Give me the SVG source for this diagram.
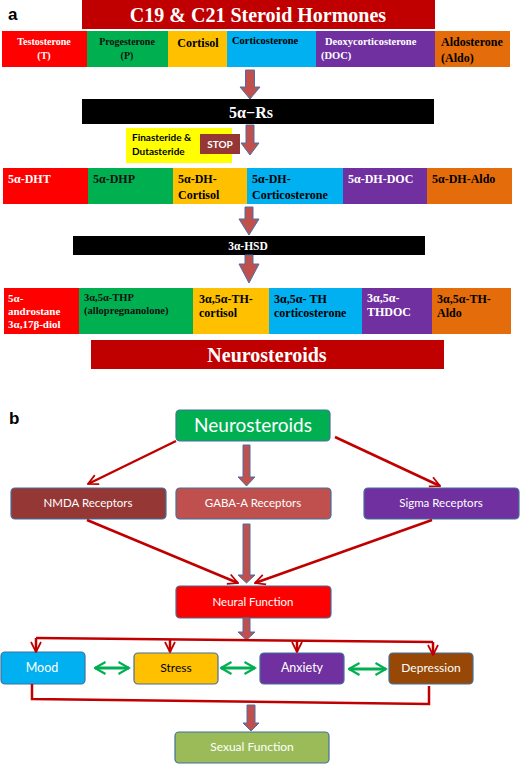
<svg xmlns="http://www.w3.org/2000/svg" width="520" height="764" viewBox="0 0 520 764">
<style>
.s{font-family:"Liberation Serif",serif;font-weight:bold}
.c{font-family:Lato,"Liberation Sans",sans-serif}
.w{fill:#fff}.k{fill:#000}
.ba{fill:#C0504D;stroke:#4A6FA5;stroke-width:1}
.rl{fill:none;stroke:#C00000;stroke-width:2.5}
.gl{fill:none;stroke:#00B050;stroke-width:3}
.nb{stroke:#41719C;stroke-width:1.2}
</style>
<defs>
<marker id="ra" viewBox="0 0 10 10" refX="9" refY="5" markerWidth="5" markerHeight="5" orient="auto" markerUnits="strokeWidth">
<polyline points="1,1 9,5 1,9" fill="none" stroke="#C00000" stroke-width="1.4"/>
</marker>
<marker id="ga" viewBox="0 0 10 10" refX="9" refY="5" markerWidth="5" markerHeight="5" orient="auto-start-reverse" markerUnits="strokeWidth">
<polyline points="2,1 9,5 2,9" fill="none" stroke="#00B050" stroke-width="1.4"/>
</marker>
</defs>
<rect width="520" height="764" fill="#fff"/>

<!-- Part a -->
<text x="8" y="20" font-family="Liberation Sans,sans-serif" font-weight="bold" font-size="17" fill="#000">a</text>

<g id="title">
<rect x="82" y="0" width="353" height="29" fill="#C00000"/>
<text x="258" y="22" class="s w" font-size="20" text-anchor="middle">C19 &amp; C21 Steroid Hormones</text>
</g>

<g id="row1">
<g id="testosterone"><rect x="2" y="31" width="85" height="36" fill="#FF0000"/>
<text x="44" y="45" class="s w" font-size="10" text-anchor="middle">Testosterone</text>
<text x="44" y="59" class="s w" font-size="10" text-anchor="middle">(T)</text></g>
<g id="progesterone"><rect x="87" y="31" width="81" height="36" fill="#00B050"/>
<text x="127" y="45" class="s" fill="#111" font-size="10" text-anchor="middle">Progesterone</text>
<text x="127" y="59" class="s" fill="#111" font-size="10" text-anchor="middle">(P)</text></g>
<g id="cortisol"><rect x="168" y="31" width="59" height="36" fill="#FFC000"/>
<text x="198" y="47" class="s k" font-size="12" text-anchor="middle">Cortisol</text></g>
<g id="corticosterone"><rect x="227" y="31" width="89" height="36" fill="#00B0F0"/>
<text x="232" y="44" class="s k" font-size="10.5">Corticosterone</text></g>
<g id="doc"><rect x="316" y="31" width="119" height="36" fill="#7030A0"/>
<text x="325" y="45" class="s w" font-size="10.5">Deoxycorticosterone</text>
<text x="321" y="59" class="s w" font-size="10.5">(DOC)</text></g>
<g id="aldosterone"><rect x="435" y="31" width="75" height="36" fill="#E46C0A"/>
<text x="441" y="46" class="s k" font-size="12">Aldosterone</text>
<text x="441" y="62" class="s k" font-size="12">(Aldo)</text></g>
</g>

<g id="rs">
<rect x="82" y="99" width="352" height="25" fill="#000"/>
<text x="251" y="118" class="s w" font-size="16" text-anchor="middle">5α−Rs</text>
</g>

<g id="inhibitor">
<rect x="126" y="128" width="106" height="35" fill="#FFFF00"/>
<text x="132" y="141" class="c k" font-size="10" font-weight="bold">Finasteride &amp;</text>
<text x="132" y="155" class="c k" font-size="10" font-weight="bold">Dutasteride</text>
<rect x="200" y="134" width="40" height="20" fill="#953735"/>
<text x="220" y="148" class="c w" font-size="10" font-weight="bold" text-anchor="middle">STOP</text>
</g>

<g id="row2">
<g id="dht"><rect x="3" y="168" width="85" height="36" fill="#FF0000"/>
<text x="8" y="183" class="s w" font-size="12">5α-DHT</text></g>
<g id="dhp"><rect x="88" y="168" width="85" height="36" fill="#00B050"/>
<text x="93" y="183" class="s" fill="#111" font-size="12">5α-DHP</text></g>
<g id="dhcortisol"><rect x="173" y="168" width="74" height="36" fill="#FFC000"/>
<text x="178" y="183" class="s k" font-size="12">5α-DH-</text>
<text x="178" y="199" class="s k" font-size="12">Cortisol</text></g>
<g id="dhcortico"><rect x="247" y="168" width="96" height="36" fill="#00B0F0"/>
<text x="252" y="183" class="s k" font-size="12">5α-DH-</text>
<text x="252" y="199" class="s k" font-size="12">Corticosterone</text></g>
<g id="dhdoc"><rect x="343" y="168" width="84" height="36" fill="#7030A0"/>
<text x="348" y="183" class="s w" font-size="12">5α-DH-DOC</text></g>
<g id="dhaldo"><rect x="427" y="168" width="85" height="36" fill="#E46C0A"/>
<text x="432" y="183" class="s k" font-size="12">5α-DH-Aldo</text></g>
</g>

<g id="hsd">
<rect x="73" y="236" width="352" height="19" fill="#000"/>
<text x="248" y="250" class="s w" font-size="11.5" text-anchor="middle">3α-HSD</text>
</g>

<g id="row3">
<g id="diol"><rect x="4" y="288" width="75" height="46" fill="#FF0000"/>
<text x="8" y="302" class="s w" font-size="11">5α-</text>
<text x="8" y="315" class="s w" font-size="11">androstane</text>
<text x="8" y="328" class="s w" font-size="11">3α,17β-diol</text></g>
<g id="thp"><rect x="79" y="288" width="114" height="46" fill="#00B050"/>
<text x="84" y="301" class="s" fill="#111" font-size="10.5">3α,5α-THP</text>
<text x="84" y="314" class="s" fill="#111" font-size="10.5">(allopregnanolone)</text></g>
<g id="thcortisol"><rect x="193" y="288" width="76" height="46" fill="#FFC000"/>
<text x="199" y="303" class="s k" font-size="12">3α,5α-TH-</text>
<text x="199" y="317" class="s k" font-size="12">cortisol</text></g>
<g id="thcortico"><rect x="269" y="288" width="93" height="46" fill="#00B0F0"/>
<text x="274" y="303" class="s k" font-size="12">3α,5α- TH</text>
<text x="274" y="317" class="s k" font-size="12">corticosterone</text></g>
<g id="thdoc"><rect x="362" y="288" width="70" height="46" fill="#7030A0"/>
<text x="367" y="302" class="s w" font-size="12">3α,5α-</text>
<text x="367" y="316" class="s w" font-size="12">THDOC</text></g>
<g id="thaldo"><rect x="432" y="288" width="79" height="46" fill="#E46C0A"/>
<text x="437" y="303" class="s k" font-size="12">3α,5α-TH-</text>
<text x="437" y="317" class="s k" font-size="12">Aldo</text></g>
</g>

<g id="neurosteroids-a">
<rect x="91" y="340" width="353" height="29" fill="#C00000"/>
<text x="267" y="362" class="s w" font-size="20" text-anchor="middle">Neurosteroids</text>
</g>

<!-- Part b -->
<text x="9" y="424" font-family="Liberation Sans,sans-serif" font-weight="bold" font-size="17" fill="#000">b</text>

<g id="neuro-b">
<rect x="176" y="410" width="154" height="31" rx="4" fill="#00B050" class="nb"/>
<text x="253" y="432" class="c w" font-size="19" text-anchor="middle">Neurosteroids</text>
</g>
<g id="nmda">
<rect x="11" y="488" width="155" height="31" rx="4" fill="#953735" class="nb"/>
<text x="88" y="507" class="c w" font-size="11.5" text-anchor="middle">NMDA Receptors</text>
</g>
<g id="gaba">
<rect x="176" y="488" width="155" height="31" rx="4" fill="#C0504D" class="nb"/>
<text x="253" y="507" class="c w" font-size="11.5" text-anchor="middle">GABA-A Receptors</text>
</g>
<g id="sigma">
<rect x="364" y="488" width="155" height="31" rx="4" fill="#7030A0" class="nb"/>
<text x="441" y="507" class="c w" font-size="11.5" text-anchor="middle">Sigma Receptors</text>
</g>
<g id="neural">
<rect x="176" y="586" width="155" height="32" rx="4" fill="#FF0000" class="nb"/>
<text x="253" y="606" class="c w" font-size="11.5" text-anchor="middle">Neural Function</text>
</g>
<g id="mood">
<rect x="1" y="652" width="84" height="32" rx="4" fill="#00B0F0" class="nb"/>
<text x="42" y="672" class="c w" font-size="12.5" text-anchor="middle">Mood</text>
</g>
<g id="stress">
<rect x="134" y="653" width="84" height="31" rx="4" fill="#FFC000" class="nb"/>
<text x="176" y="672" class="c k" font-size="12" text-anchor="middle">Stress</text>
</g>
<g id="anxiety">
<rect x="260" y="653" width="84" height="31" rx="4" fill="#7030A0" class="nb"/>
<text x="302" y="672" class="c w" font-size="12.5" text-anchor="middle">Anxiety</text>
</g>
<g id="depression">
<rect x="389" y="653" width="84" height="31" rx="4" fill="#974706" class="nb"/>
<text x="431" y="672" class="c w" font-size="12" text-anchor="middle">Depression</text>
</g>
<g id="sexual">
<rect x="175" y="732" width="154" height="31" rx="4" fill="#9BBB59" class="nb"/>
<text x="252" y="751" class="c w" font-size="12" text-anchor="middle">Sexual Function</text>
</g>

<g id="connectors">
<path class="ba" d="M245.5,70 H254.5 V87 H260 L250,99 L240,87 H245.5 Z"/>
<path class="ba" d="M246,125 H254 V143 H259 L250,155 L241,143 H246 Z"/>
<path class="ba" d="M245,207 H253 V219 H259 L249,235 L239,219 H245 Z"/>
<path class="ba" d="M245,255 H253 V264 H259 L249,283 L239,264 H245 Z"/>
<path class="ba" d="M243,445 H250 V477 H255 L246.5,486 L238,477 H243 Z"/>
<path class="ba" d="M243,524 H250 V575 H255 L246.5,583 L238,575 H243 Z"/>
<path class="ba" d="M243,618 H250 V632 H255 L246.5,640 L238,632 H243 Z"/>
<path class="ba" d="M247,705 H255 V723 H259 L251,731 L243,723 H247 Z"/>
<line class="rl" x1="176" y1="441" x2="88" y2="484" marker-end="url(#ra)"/>
<line class="rl" x1="335" y1="437" x2="440" y2="486" marker-end="url(#ra)"/>
<line class="rl" x1="87" y1="520" x2="238" y2="583" marker-end="url(#ra)"/>
<line class="rl" x1="432" y1="520" x2="255" y2="583" marker-end="url(#ra)"/>
<polyline class="rl" points="433,642 36,638"/>
<polyline class="rl" points="36,638 36,652" marker-end="url(#ra)"/>
<polyline class="rl" points="170,639.3 170,652" marker-end="url(#ra)"/>
<polyline class="rl" points="297,640.6 297,652" marker-end="url(#ra)"/>
<polyline class="rl" points="433,642 433,655" marker-end="url(#ra)"/>
<polyline class="rl" points="32,684 32,699 429,704 429,686"/>
<line class="gl" x1="95" y1="668" x2="129" y2="668" marker-start="url(#ga)" marker-end="url(#ga)"/>
<line class="gl" x1="221" y1="668" x2="255" y2="668" marker-start="url(#ga)" marker-end="url(#ga)"/>
<line class="gl" x1="349" y1="669" x2="386" y2="669" marker-start="url(#ga)" marker-end="url(#ga)"/>
</g>
</svg>
